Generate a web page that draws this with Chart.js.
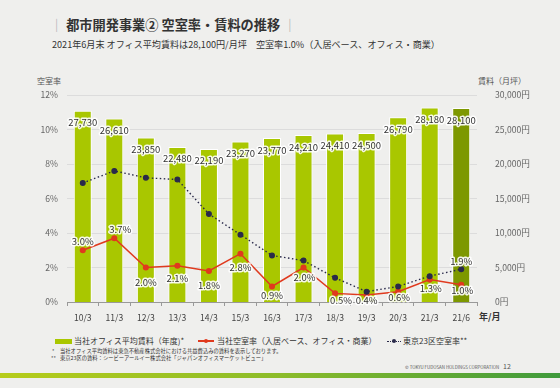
<html>
    <head>
        <script src="https://cdn.jsdelivr.net/npm/chart.js@4/dist/chart.umd.min.js"></script>
        <style>
            body { margin: 0; width: 560px; height: 388px; background: #efefed; position: relative; overflow: hidden;
                   font-family: "Noto Sans CJK JP", "Noto Sans", sans-serif; color: #333; }
            .t { position: absolute; white-space: nowrap; line-height: 1; }
            #chartbox { position: absolute; left: 0; top: 60px; width: 560px; height: 270px; }
        </style>
    </head>
    <body>
        <div class="t" style="left:50px;top:18px;font-size:13.2px;font-weight:bold;"><span style="color:#aaa;font-weight:normal">｜</span> 都市開発事業② 空室率・賃料の推移 <span style="color:#aaa;font-weight:normal">｜</span></div>
        <div class="t" style="left:52px;top:40px;font-size:9.1px;">2021年6月末 オフィス平均賃料は28,100円/月坪　空室率1.0%（入居ベース、オフィス・商業）</div>
        <div class="t" style="left:37px;top:77px;font-size:8px;color:#555">空室率</div>
        <div class="t" style="left:478px;top:77px;font-size:8px;color:#555">賃料（月坪）</div>
        <div class="t" style="left:479px;top:312px;font-size:9px;font-weight:bold">年/月</div>
        <div id="chartbox"><canvas id="mainchart"></canvas></div>

        <div style="position:absolute;left:55px;top:339px;width:17px;height:5px;background:#a9c700"></div>
        <div class="t" style="left:74px;top:337px;font-size:8px">当社オフィス平均賃料（年度)*</div>
        <div style="position:absolute;left:198px;top:340px;width:16px;height:1.5px;background:#e03a1e"></div>
        <div style="position:absolute;left:204px;top:339px;width:4px;height:4px;border-radius:2px;background:#e03a1e"></div>
        <div class="t" style="left:217px;top:337px;font-size:8px">当社空室率（入居ベース、オフィス・商業）</div>
        <div style="position:absolute;left:387px;top:340.5px;width:14px;border-top:1.5px dotted #2a2a4a"></div>
        <div style="position:absolute;left:391.5px;top:339px;width:4px;height:4px;border-radius:2px;background:#2a2a4a"></div>
        <div class="t" style="left:403px;top:337px;font-size:8px">東京23区空室率**</div>

        <div class="t" style="left:52px;top:349px;font-size:5.3px">*</div>
        <div class="t" style="left:60px;top:349px;font-size:5.3px">当社オフィス平均賃料は東急不動産株式会社における共益費込みの賃料を表示しております。</div>
        <div class="t" style="left:51px;top:356px;font-size:5.3px">**</div>
        <div class="t" style="left:60px;top:356px;font-size:5.3px">東京23区の賃料：シービーアールイー株式会社「ジャパンオフィスマーケットビュー」</div>
        <div class="t" style="left:405px;top:365px;font-size:4.4px;color:#555">© TOKYU FUDOSAN HOLDINGS CORPORATION</div>
        <div class="t" style="left:503px;top:363px;font-size:7px;color:#555">12</div>
        <div style="position:absolute;left:0;top:373px;width:560px;height:5px;background:linear-gradient(to right,#b6cc1a,#8cbc2a 50%,#3f9a3c)"></div>

        <script>
            const periods = ['10/3','11/3','12/3','13/3','14/3','15/3','16/3','17/3','18/3','19/3','20/3','21/3','21/6']
            const rent = [27730, 26610, 23850, 22480, 22190, 23270, 23770, 24210, 24410, 24500, 26790, 28180, 28100]
            const ourVacancy = [3.0, 3.7, 2.0, 2.1, 1.8, 2.8, 0.9, 2.0, 0.5, 0.4, 0.6, 1.3, 1.0]
            const tokyoVacancy = [6.9, 7.6, 7.2, 7.1, 5.1, 3.9, 2.7, 2.4, 1.4, 0.6, 0.9, 1.5, 1.9]
            const leftTicks = ['0%','2%','4%','6%','8%','10%','12%']

            // label nudges for the red line, in px
            const vacDy = [-9, -9, 15, 13, 14, 14, 8.5, 9.5, 7, 5, 5.5, 9, 6]
            const vacDx = [0, 6, 0, 0, 0, 0, 0, 1, 6, 0, 1, 1, 1]

            const fontName = '"Noto Sans CJK JP", "Noto Sans", sans-serif'

            function haloText(c, txt, x, y) {
                c.strokeStyle = 'rgba(255,255,255,0.9)'
                c.lineWidth = 3
                c.lineJoin = 'round'
                c.strokeText(txt, x, y)
                c.fillStyle = '#333'
                c.fillText(txt, x, y)
            }

            const labelPlugin = {
                id: 'labels',
                afterDatasetsDraw(chart) {
                    const c = chart.ctx
                    c.save()
                    c.font = '9.5px ' + fontName
                    c.textAlign = 'center'
                    c.textBaseline = 'middle'
                    chart.getDatasetMeta(0).data.forEach((bar, i) => {
                        haloText(c, rent[i].toLocaleString('en-US'), bar.x, bar.y + 12)
                    })
                    chart.getDatasetMeta(1).data.forEach((pt, i) => {
                        haloText(c, ourVacancy[i].toFixed(1) + '%', pt.x + vacDx[i], pt.y + vacDy[i])
                    })
                    const tk = chart.getDatasetMeta(2).data
                    const last = tk[tk.length - 1]
                    haloText(c, tokyoVacancy[tk.length - 1].toFixed(1) + '%', last.x, last.y - 8)
                    c.restore()
                }
            }

            const ctx = document.getElementById('mainchart').getContext('2d')
            const mainchart = new Chart(ctx, {
                type: 'bar',
                data: {
                    labels: periods,
                    datasets: [
                        {
                            type: 'bar',
                            data: rent,
                            yAxisID: 'y2',
                            backgroundColor: rent.map((v, i) => i == rent.length - 1 ? '#7d9800' : '#a9c700'),
                            borderColor: '#ffffff',
                            borderWidth: 1,
                            barPercentage: 0.57,
                            categoryPercentage: 1,
                            order: 3
                        },
                        {
                            type: 'line',
                            data: ourVacancy,
                            yAxisID: 'y',
                            borderColor: '#e03a1e',
                            backgroundColor: '#e03a1e',
                            borderWidth: 1.5,
                            pointRadius: 2.3,
                            order: 2
                        },
                        {
                            type: 'line',
                            data: tokyoVacancy,
                            yAxisID: 'y',
                            borderColor: '#2a2a4a',
                            backgroundColor: '#2a2a4a',
                            borderWidth: 1.4,
                            borderDash: [1.5, 2.5],
                            pointRadius: 2.3,
                            order: 1
                        }
                    ]
                },
                options: {
                    responsive: true,
                    maintainAspectRatio: false,
                    animation: false,
                    layout: { padding: { top: 35, left: 0, right: 0, bottom: 0 } },
                    plugins: { legend: { display: false }, tooltip: { enabled: false } },
                    scales: {
                        x: {
                            afterFit: s => { s.height = 28 },
                            grid: { drawOnChartArea: false, tickLength: 4, color: '#999' },
                            border: { color: '#999' },
                            ticks: { color: '#444', font: { size: 8.6, family: fontName }, padding: 7 }
                        },
                        y: {
                            position: 'left',
                            min: 0, max: 12,
                            afterFit: s => { s.width = 67 },
                            grid: { color: '#dcdcdc', drawTicks: false },
                            border: { display: false },
                            ticks: {
                                stepSize: 2, padding: 9, color: '#666',
                                font: { size: 8.6, family: fontName },
                                callback: (v, i) => leftTicks[i]
                            }
                        },
                        y2: {
                            position: 'right',
                            min: 0, max: 30000,
                            afterFit: s => { s.width = 83 },
                            grid: { display: false },
                            border: { display: false },
                            ticks: {
                                stepSize: 5000, padding: 10, color: '#666',
                                font: { size: 8.6, family: fontName },
                                callback: v => v.toLocaleString('en-US') + '円'
                            }
                        }
                    }
                },
                plugins: [labelPlugin]
            })
        </script>
    </body>
</html>
